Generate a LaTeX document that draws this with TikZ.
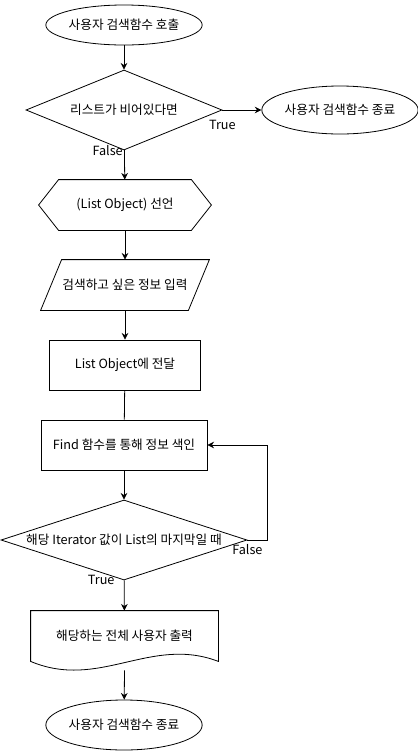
\documentclass[tikz,border=0pt]{standalone}
\usepackage{fontspec}
\setmainfont{Noto Sans CJK KR}
\usetikzlibrary{shapes.geometric,arrows.meta,calc}
\begin{document}
\begin{tikzpicture}[x=0.75pt, y=-0.75pt, >={Stealth[length=5pt,width=5pt]}, line width=0.6pt,
    every node/.style={font=\fontsize{9.5}{11}\selectfont},
    term/.style={ellipse, draw, minimum width=117pt, minimum height=30pt, inner sep=0pt},
    cond/.style={diamond, draw, aspect=2.5, minimum width=147pt, minimum height=60pt, inner sep=0pt},
    proc/.style={rectangle, draw, minimum height=37.5pt},
    bare/.style={rectangle, minimum height=37.5pt, inner sep=0pt},
    lbl/.style={inner sep=1pt}]
    \useasboundingbox (0,0) rectangle (418,751);
    \node[term] (start) at (124,25) {사용자 검색함수 호출};
    \node[cond] (empty) at (124,110) {리스트가 비어있다면};
    \node[term, minimum width=115.5pt, minimum height=36pt] (quit) at (340,110) {사용자 검색함수 종료};
    \node[bare, minimum width=129pt] (decl) at (125,205) {(List Object) 선언};
    \node[bare, minimum width=126pt] (input) at (125,285) {검색하고 싶은 정보 입력};
    \node[proc, minimum width=113pt] (pass) at (125,365) {List Object에 전달};
    \node[proc, minimum width=124.5pt] (find) at (124,445) {Find 함수를 통해 정보 색인};
    \node[cond, aspect=3.1, minimum width=184.5pt] (last) at (124,540) {해당 Iterator 값이 List의 마지막일 때};
    \node[bare, minimum width=140.25pt] (out) at (124.5,636) {해당하는 전체 사용자 출력};
    \node[term, minimum height=37.5pt] (stop) at (124,725) {사용자 검색함수 종료};

    \draw ($(decl.north west)+(20,0)$) -- ($(decl.north east)+(-20,0)$) -- (decl.east)
        -- ($(decl.south east)+(-20,0)$) -- ($(decl.south west)+(20,0)$) -- (decl.west) -- cycle;
    \draw ($(input.north west)+(21,0)$) -- (input.north east) -- ($(input.south east)+(-21,0)$)
        -- (input.south west) -- cycle;
    \draw (out.north west) -- (out.north east) -- (out.south east)
        .. controls +(-68,-26) and +(69,29) .. (out.south west) -- cycle;

    \draw[->] (start) -- (empty);
    \draw[->] (empty) -- node[lbl, pos=0, below=6pt] {True} (quit);
    \draw[->] (empty) -- node[lbl, pos=0, left] {False} (decl);
    \draw[->] (decl) -- (input);
    \draw[->] (input) -- (pass);
    \draw (pass) -- (find);
    \draw[->] (find) -- (last);
    \draw[->] (last.east) -- node[lbl, pos=0, below=2pt] {False} ++(20,0) |- (find.east);
    \draw[->] (last) -- node[lbl, pos=0, left=6pt] {True} (out);
    \draw[->] ($(out.south)+(0,9)$) -- (stop);
\end{tikzpicture}
\end{document}
